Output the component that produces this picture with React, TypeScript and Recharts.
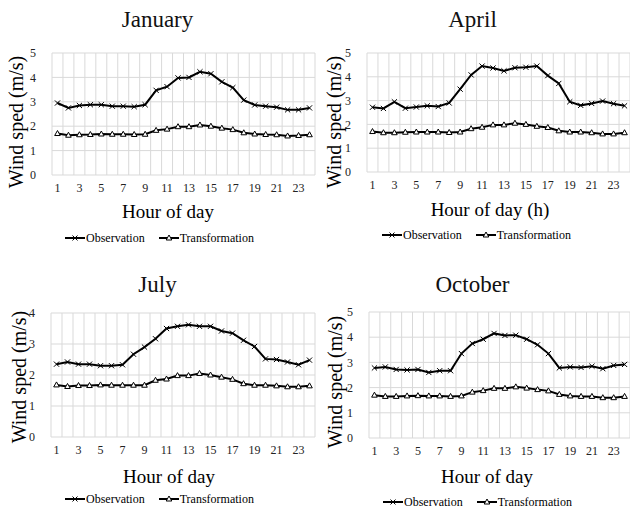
import React from 'react'
import { LineChart, Line, XAxis, YAxis, CartesianGrid, ReferenceLine } from 'recharts'

// hour of day, 1..24
const hours = [1, 2, 3, 4, 5, 6, 7, 8, 9, 10, 11, 12, 13, 14, 15, 16, 17, 18, 19, 20, 21, 22, 23, 24]
const hourTicks = [1, 3, 5, 7, 9, 11, 13, 15, 17, 19, 21, 23]

const janObs = [2.95, 2.75, 2.85, 2.88, 2.88, 2.82, 2.82, 2.8, 2.88, 3.47, 3.62, 3.98, 4.0, 4.23, 4.15, 3.82, 3.58, 3.07, 2.87, 2.82, 2.78, 2.67, 2.67, 2.75]
const janTrans = [1.7, 1.63, 1.65, 1.66, 1.68, 1.67, 1.67, 1.66, 1.67, 1.83, 1.88, 1.98, 1.98, 2.05, 2.0, 1.92, 1.86, 1.73, 1.68, 1.66, 1.65, 1.6, 1.62, 1.65]

const aprObs = [2.72, 2.67, 2.95, 2.68, 2.73, 2.78, 2.75, 2.9, 3.48, 4.08, 4.45, 4.37, 4.25, 4.38, 4.4, 4.45, 4.05, 3.72, 2.95, 2.8, 2.88, 2.98, 2.87, 2.78]
const aprTrans = [1.7, 1.65, 1.65, 1.67, 1.68, 1.68, 1.68, 1.66, 1.68, 1.82, 1.88, 1.98, 1.98, 2.05, 2.0, 1.92, 1.87, 1.73, 1.68, 1.68, 1.65, 1.6, 1.6, 1.65]

const julObs = [2.35, 2.42, 2.35, 2.35, 2.3, 2.3, 2.33, 2.67, 2.9, 3.17, 3.5, 3.57, 3.62, 3.57, 3.57, 3.42, 3.35, 3.12, 2.92, 2.52, 2.5, 2.42, 2.33, 2.48]
const julTrans = [1.68, 1.63, 1.66, 1.66, 1.68, 1.67, 1.67, 1.67, 1.67, 1.83, 1.87, 1.98, 1.98, 2.05, 2.0, 1.93, 1.86, 1.72, 1.67, 1.67, 1.65, 1.62, 1.62, 1.65]

const octObs = [2.78, 2.82, 2.72, 2.7, 2.72, 2.6, 2.67, 2.67, 3.35, 3.75, 3.92, 4.15, 4.07, 4.08, 3.92, 3.7, 3.35, 2.78, 2.82, 2.8, 2.85, 2.75, 2.88, 2.92]
const octTrans = [1.7, 1.65, 1.65, 1.67, 1.68, 1.67, 1.67, 1.65, 1.67, 1.82, 1.88, 1.97, 1.97, 2.03, 1.98, 1.92, 1.87, 1.73, 1.67, 1.65, 1.65, 1.6, 1.6, 1.65]

const FONT = '"Liberation Serif", "Times New Roman", serif'
const GRID = '#d9d9d9'

// category boundaries for the vertical gridlines (Excel style, between categories)
const boundaries = [...hours.map((h) => h - 0.5), hours[hours.length - 1] + 0.5]

const CrossDot = (props: any) => {
  const { cx, cy, index } = props
  if (cx == null || cy == null) return <g key={index} />
  const s = 2.6
  return (
    <path
      key={index}
      d={`M${cx - s},${cy - s}L${cx + s},${cy + s}M${cx + s},${cy - s}L${cx - s},${cy + s}`}
      stroke="#000"
      strokeWidth={1}
    />
  )
}

const TriDot = (props: any) => {
  const { cx, cy, index } = props
  if (cx == null || cy == null) return <g key={index} />
  return (
    <path
      key={index}
      d={`M${cx},${cy - 3}L${cx + 2.8},${cy + 2}L${cx - 2.8},${cy + 2}Z`}
      fill="#fff"
      stroke="#000"
      strokeWidth={1}
    />
  )
}

function LegendItem({ kind, label }: { kind: 'cross' | 'tri'; label: string }) {
  return (
    <span style={{ display: 'inline-flex', alignItems: 'center', marginRight: 14 }}>
      <svg width={20} height={10} style={{ marginRight: 1 }}>
        <line x1={0} y1={5} x2={20} y2={5} stroke="#000" strokeWidth={2} />
        {kind === 'cross' ? (
          <path d="M7.5,2.5L12.5,7.5M12.5,2.5L7.5,7.5" stroke="#000" strokeWidth={1} />
        ) : (
          <path d="M10,2L12.8,7L7.2,7Z" fill="#fff" stroke="#000" strokeWidth={1} />
        )}
      </svg>
      {label}
    </span>
  )
}

interface PanelProps {
  left: number
  top: number
  title: string
  xLabel: string
  obs: number[]
  trans: number[]
  yMax: number
  plot: { x: number; y: number; w: number; h: number }
  titleY: number
  yLabelX: number
  yLabelY: number
  xLabelX: number
  xLabelY: number
  legendX: number
  legendY: number
}

function Panel(p: PanelProps) {
  const data = hours.map((h, i) => ({ hour: h, obs: p.obs[i], trans: p.trans[i] }))
  const yTicks = Array.from({ length: p.yMax + 1 }, (_, i) => i)
  const width = p.plot.x + p.plot.w + 1
  const height = p.plot.y + p.plot.h + 20
  return (
    <div style={{ position: 'absolute', left: p.left, top: p.top, width: 315, height: 255 }}>
      <div
        style={{
          position: 'absolute',
          left: 0,
          width: 315,
          top: p.titleY - 13,
          textAlign: 'center',
          fontSize: 23,
          lineHeight: '26px',
          color: '#111',
        }}
      >
        {p.title}
      </div>
      <div style={{ position: 'absolute', left: 0, top: 0 }}>
        <LineChart width={width} height={height} data={data} margin={{ top: p.plot.y, right: 1, left: 0, bottom: 0 }}>
          <CartesianGrid vertical={false} stroke={GRID} />
          {boundaries.map((b) => (
            <ReferenceLine key={b} x={b} stroke={GRID} strokeWidth={1} />
          ))}
          <XAxis
            type="number"
            dataKey="hour"
            domain={[0.5, 24.5]}
            ticks={hourTicks}
            interval={0}
            axisLine={false}
            tickLine={false}
            tickMargin={2}
            height={20}
            tick={{ fontSize: 12, fill: '#222', fontFamily: FONT }}
          />
          <YAxis
            type="number"
            domain={[0, p.yMax]}
            ticks={yTicks}
            axisLine={false}
            tickLine={false}
            tickMargin={10}
            width={p.plot.x}
            tick={{ fontSize: 12, fill: '#222', fontFamily: FONT }}
          />
          <Line
            type="linear"
            dataKey="obs"
            stroke="#000"
            strokeWidth={2}
            dot={CrossDot}
            isAnimationActive={false}
          />
          <Line
            type="linear"
            dataKey="trans"
            stroke="#000"
            strokeWidth={2}
            dot={TriDot}
            isAnimationActive={false}
          />
        </LineChart>
      </div>
      <div
        style={{
          position: 'absolute',
          left: p.yLabelX - 100,
          top: p.yLabelY - 12,
          width: 200,
          height: 24,
          lineHeight: '24px',
          textAlign: 'center',
          fontSize: 20,
          transform: 'rotate(-90deg)',
          whiteSpace: 'nowrap',
        }}
      >
        Wind sped (m/s)
      </div>
      <div
        style={{
          position: 'absolute',
          left: p.xLabelX - 100,
          width: 200,
          top: p.xLabelY - 11,
          lineHeight: '22px',
          textAlign: 'center',
          fontSize: 19,
        }}
      >
        {p.xLabel}
      </div>
      <div
        style={{
          position: 'absolute',
          left: p.legendX,
          top: p.legendY - 8,
          height: 16,
          display: 'flex',
          alignItems: 'center',
          fontSize: 12,
          whiteSpace: 'nowrap',
        }}
      >
        <LegendItem kind="cross" label="Observation" />
        <LegendItem kind="tri" label="Transformation" />
      </div>
    </div>
  )
}

export default function App() {
  return (
    <div
      style={{
        position: 'absolute',
        left: 0,
        top: 0,
        width: 630,
        height: 513,
        background: '#fff',
        fontFamily: FONT,
        color: '#000',
        overflow: 'hidden',
      }}
    >
      <Panel
        left={0}
        top={0}
        title="January"
        xLabel="Hour of day"
        obs={janObs}
        trans={janTrans}
        yMax={5}
        plot={{ x: 52, y: 53, w: 263, h: 122 }}
        titleY={20}
        yLabelX={16}
        yLabelY={122}
        xLabelX={168}
        xLabelY={212}
        legendX={65}
        legendY={238}
      />
      <Panel
        left={315}
        top={0}
        title="April"
        xLabel="Hour of day (h)"
        obs={aprObs}
        trans={aprTrans}
        yMax={5}
        plot={{ x: 52, y: 53, w: 263, h: 119 }}
        titleY={20}
        yLabelX={19}
        yLabelY={122}
        xLabelX={175}
        xLabelY={210}
        legendX={67}
        legendY={235}
      />
      <Panel
        left={0}
        top={260}
        title="July"
        xLabel="Hour of day"
        obs={julObs}
        trans={julTrans}
        yMax={4}
        plot={{ x: 51, y: 53, w: 264, h: 124 }}
        titleY={25}
        yLabelX={19}
        yLabelY={117}
        xLabelX={169}
        xLabelY={217}
        legendX={65}
        legendY={239}
      />
      <Panel
        left={315}
        top={260}
        title="October"
        xLabel="Hour of day"
        obs={octObs}
        trans={octTrans}
        yMax={5}
        plot={{ x: 54, y: 52, w: 261, h: 126 }}
        titleY={25}
        yLabelX={20}
        yLabelY={122}
        xLabelX={172}
        xLabelY={217}
        legendX={68}
        legendY={242}
      />
    </div>
  )
}
